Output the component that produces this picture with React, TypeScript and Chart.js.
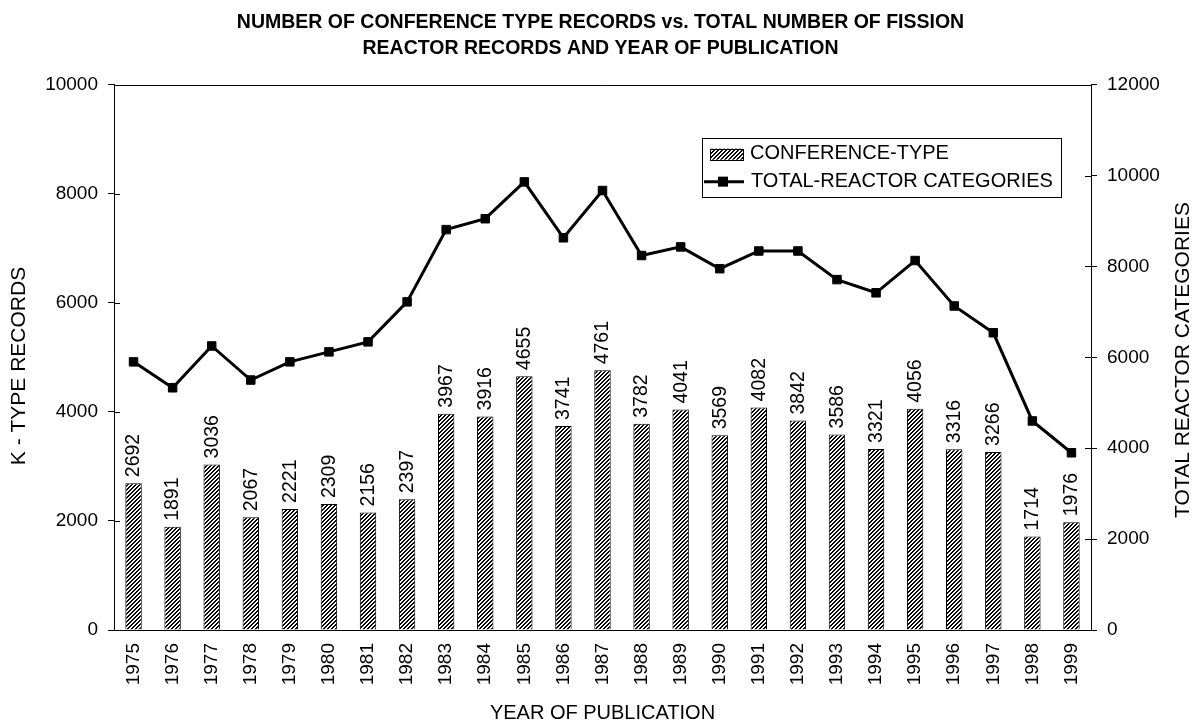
import React, { useEffect, useRef } from 'react';
import { Chart, registerables } from 'chart.js';

Chart.register(...registerables);

const YEARS = ['1975', '1976', '1977', '1978', '1979', '1980', '1981', '1982', '1983', '1984', '1985', '1986', '1987', '1988', '1989', '1990', '1991', '1992', '1993', '1994', '1995', '1996', '1997', '1998', '1999'];
const CONFERENCE_TYPE = [2692, 1891, 3036, 2067, 2221, 2309, 2156, 2397, 3967, 3916, 4655, 3741, 4761, 3782, 4041, 3569, 4082, 3842, 3586, 3321, 4056, 3316, 3266, 1714, 1976];
const TOTAL_REACTOR = [5900, 5330, 6250, 5500, 5900, 6120, 6340, 7220, 8810, 9050, 9860, 8630, 9670, 8240, 8430, 7950, 8340, 8340, 7710, 7420, 8130, 7130, 6540, 4600, 3900];

const TITLE_LINES = ['NUMBER OF CONFERENCE TYPE RECORDS vs. TOTAL NUMBER OF FISSION', 'REACTOR RECORDS AND YEAR OF PUBLICATION'];
const LEFT_TITLE = 'K - TYPE RECORDS';
const RIGHT_TITLE = 'TOTAL REACTOR CATEGORIES';
const X_TITLE = 'YEAR OF PUBLICATION';
const LEGEND_BAR = 'CONFERENCE-TYPE';
const LEGEND_LINE = 'TOTAL-REACTOR CATEGORIES';

const FONT = '"Liberation Sans", Arial, Helvetica, sans-serif';

function makeHatch(): CanvasPattern | string {
  const c = document.createElement('canvas');
  const s = 4;
  c.width = s;
  c.height = s;
  const g = c.getContext('2d');
  if (!g) return '#888';
  g.fillStyle = '#fff';
  g.fillRect(0, 0, s, s);
  g.fillStyle = '#000';
  for (let row = 0; row < s; row++) {
    const x0 = (s - 1 - row) % s;
    g.fillRect(x0, row, 1, 1);
    g.fillRect((x0 + 1) % s, row, 1, 1);
  }
  const p = g.createPattern(c, 'repeat');
  return p || '#888';
}

const plainTick = (v: any) => String(v);

export default function App() {
  const ref = useRef<HTMLCanvasElement | null>(null);

  useEffect(() => {
    const canvas = ref.current;
    if (!canvas) return;
    const hatch = makeHatch();

    const framePlugin = {
      id: 'frame',
      afterDraw(chart: any) {
        const { ctx, chartArea } = chart;
        const { left, right, top } = chartArea;
        ctx.save();
        ctx.strokeStyle = '#000';
        ctx.lineWidth = 1;
        // top border
        ctx.beginPath();
        ctx.moveTo(left, Math.round(top) + 0.5);
        ctx.lineTo(right, Math.round(top) + 0.5);
        ctx.stroke();
        // inner ticks
        const y = chart.scales.y;
        const y1 = chart.scales.y1;
        ctx.beginPath();
        y.ticks.forEach((t: any) => {
          const py = Math.round(y.getPixelForValue(t.value)) + 0.5;
          ctx.moveTo(left, py);
          ctx.lineTo(left + 6, py);
        });
        y1.ticks.forEach((t: any) => {
          const py = Math.round(y1.getPixelForValue(t.value)) + 0.5;
          ctx.moveTo(right, py);
          ctx.lineTo(right - 6, py);
        });
        ctx.stroke();

        // axis titles
        ctx.fillStyle = '#000';
        ctx.textAlign = 'center';
        ctx.textBaseline = 'middle';
        ctx.font = `21px ${FONT}`;
        ctx.save();
        ctx.translate(19, 366);
        ctx.rotate(-Math.PI / 2);
        ctx.fillText(LEFT_TITLE, 0, 0);
        ctx.restore();
        ctx.save();
        ctx.translate(chart.width - 18, 360);
        ctx.rotate(-Math.PI / 2);
        ctx.fillText(RIGHT_TITLE, 0, 0);
        ctx.restore();
        ctx.font = `20px ${FONT}`;
        ctx.fillText(X_TITLE, (left + right) / 2, chart.height - 12);

        // legend
        const lx = right - 389;
        const ly = top + 53;
        const lw = 359;
        const lh = 59;
        ctx.fillStyle = '#fff';
        ctx.fillRect(lx, ly, lw, lh);
        ctx.strokeStyle = '#000';
        ctx.lineWidth = 1;
        ctx.strokeRect(Math.round(lx) + 0.5, Math.round(ly) + 0.5, lw, lh);
        // bar swatch
        ctx.fillStyle = hatch as any;
        ctx.fillRect(lx + 8, ly + 11, 33, 11);
        ctx.strokeRect(Math.round(lx + 8) + 0.5, Math.round(ly + 11) + 0.5, 33, 11);
        // line swatch
        ctx.lineWidth = 3;
        ctx.beginPath();
        ctx.moveTo(lx + 2, ly + 44);
        ctx.lineTo(lx + 42, ly + 44);
        ctx.stroke();
        ctx.fillStyle = '#000';
        ctx.fillRect(lx + 21 - 5, ly + 44 - 5, 10, 10);
        ctx.font = `20px ${FONT}`;
        ctx.textAlign = 'left';
        ctx.textBaseline = 'middle';
        ctx.fillText(LEGEND_BAR, lx + 48, ly + 16);
        ctx.fillText(LEGEND_LINE, lx + 49, ly + 44);
        ctx.restore();
      },
    };

    const barLabelPlugin = {
      id: 'barLabels',
      afterDatasetsDraw(chart: any) {
        const { ctx } = chart;
        const meta = chart.getDatasetMeta(1);
        const data = chart.data.datasets[1].data as number[];
        ctx.save();
        ctx.fillStyle = '#000';
        ctx.font = `19.5px ${FONT}`;
        ctx.textAlign = 'left';
        ctx.textBaseline = 'middle';
        meta.data.forEach((bar: any, i: number) => {
          ctx.save();
          ctx.translate(bar.x + 0.5, bar.y - 6);
          ctx.rotate(-Math.PI / 2);
          ctx.fillText(String(data[i]), 0, 0);
          ctx.restore();
        });
        ctx.restore();
      },
    };

    const chart = new Chart(canvas, {
      type: 'bar',
      data: {
        labels: YEARS,
        datasets: [
          {
            type: 'line',
            label: LEGEND_LINE,
            data: TOTAL_REACTOR,
            yAxisID: 'y1',
            borderColor: '#000',
            borderWidth: 3,
            backgroundColor: '#000',
            pointStyle: 'rect',
            pointRadius: 6,
            pointBackgroundColor: '#000',
            pointBorderColor: '#000',
            pointBorderWidth: 1,
            tension: 0,
            order: 0,
          } as any,
          {
            type: 'bar',
            label: LEGEND_BAR,
            data: CONFERENCE_TYPE,
            yAxisID: 'y',
            backgroundColor: hatch as any,
            borderColor: '#000',
            borderWidth: 1,
            barPercentage: 1,
            categoryPercentage: 0.42,
            order: 1,
          } as any,
        ],
      },
      options: {
        responsive: false,
        animation: false,
        layout: { padding: 0 },
        plugins: {
          legend: { display: false },
          tooltip: { enabled: false },
          title: {
            display: true,
            text: TITLE_LINES,
            color: '#000',
            font: { family: FONT, size: 19.5, weight: 'bold', lineHeight: 1.35 },
            padding: { top: 9, bottom: 23 },
          },
        },
        scales: {
          x: {
            type: 'category',
            offset: true,
            grid: { display: false, drawTicks: false, tickLength: 0 },
            border: { display: true, color: '#000', width: 1 },
            ticks: {
              color: '#000',
              font: { family: FONT, size: 19 },
              minRotation: 90,
              maxRotation: 90,
              padding: 13,
              autoSkip: false,
            },
            afterFit: (scale: any) => {
              scale.height = 95;
            },
          },
          y: {
            type: 'linear',
            position: 'left',
            min: 0,
            max: 10000,
            grid: { drawOnChartArea: false, drawTicks: true, tickLength: 6, color: '#000' },
            border: { display: true, color: '#000', width: 1 },
            ticks: {
              stepSize: 2000,
              color: '#000',
              font: { family: FONT, size: 19 },
              padding: 10,
              callback: plainTick,
            },
            afterFit: (scale: any) => {
              scale.width = 114;
            },
          },
          y1: {
            type: 'linear',
            position: 'right',
            min: 0,
            max: 12000,
            grid: { drawOnChartArea: false, drawTicks: true, tickLength: 6, color: '#000' },
            border: { display: true, color: '#000', width: 1 },
            ticks: {
              stepSize: 2000,
              color: '#000',
              font: { family: FONT, size: 19 },
              padding: 10,
              callback: plainTick,
            },
            afterFit: (scale: any) => {
              scale.width = 110;
            },
          },
        },
      } as any,
      plugins: [barLabelPlugin, framePlugin],
    });

    return () => {
      chart.destroy();
    };
  }, []);

  return (
    <div style={{ position: 'absolute', left: 0, top: 0, width: 1201, height: 725, background: '#fff' }}>
      <canvas ref={ref} width={1201} height={725} style={{ display: 'block', width: 1201, height: 725 }} />
    </div>
  );
}
